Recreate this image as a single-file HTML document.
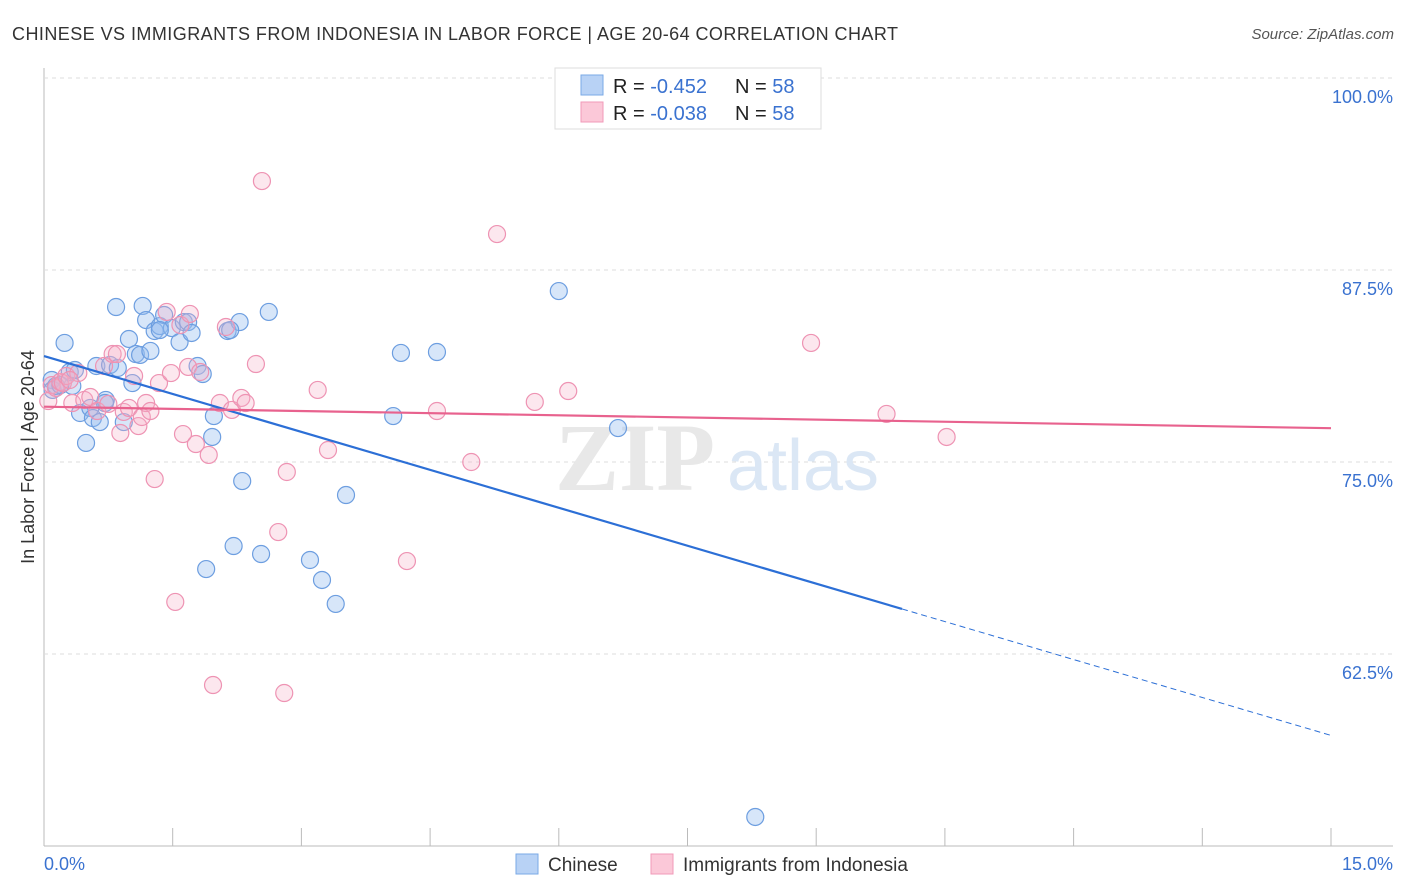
<!DOCTYPE html>
<html><head><meta charset="utf-8"><style>
body{margin:0;background:#fff;font-family:"Liberation Sans",sans-serif;}
svg{display:block}
</style></head><body>
<svg id="chart" width="1406" height="892">
<text x="12" y="40" font-size="18" fill="#333" textLength="886" lengthAdjust="spacing">CHINESE VS IMMIGRANTS FROM INDONESIA IN LABOR FORCE | AGE 20-64 CORRELATION CHART</text>
<text x="1394" y="39" font-size="15" fill="#555" font-style="italic" text-anchor="end">Source: ZipAtlas.com</text>
<text transform="translate(34,457) rotate(-90)" font-size="18" fill="#333" text-anchor="middle">In Labor Force | Age 20-64</text>
<g id="grid"></g>
<g><text x="635" y="490" font-size="96" fill="#e8e8e8" text-anchor="middle" font-family="Liberation Serif,serif" font-weight="bold">ZIP</text><text x="803" y="490" font-size="72" fill="#dbe7f5" text-anchor="middle">atlas</text></g>
<g id="marks"></g>
<g>
<rect x="555" y="68" width="266" height="61" fill="#fff" stroke="#ddd"/>
<rect x="581" y="75" width="22" height="20" fill="#b8d2f5" stroke="#7aa9e6"/>
<rect x="581" y="102" width="22" height="20" fill="#fbc8d8" stroke="#f09ab8"/>
<text x="613" y="93" font-size="20" fill="#222">R = <tspan fill="#3a72d0">-0.452</tspan><tspan x="735">N = </tspan><tspan fill="#3a72d0">58</tspan></text>
<text x="613" y="120" font-size="20" fill="#222">R = <tspan fill="#3a72d0">-0.038</tspan><tspan x="735">N = </tspan><tspan fill="#3a72d0">58</tspan></text>
</g>
<g>
<rect x="516" y="854" width="22" height="20" fill="#b8d2f5" stroke="#7aa9e6"/>
<text x="548" y="871" font-size="19" fill="#333">Chinese</text>
<rect x="651" y="854" width="22" height="20" fill="#fbc8d8" stroke="#f09ab8"/>
<text x="683" y="871" font-size="19" fill="#333">Immigrants from Indonesia</text>
</g>
</svg>
<script>
const yTicks=[100,87.5,75,62.5];
const yTickLabels=["100.0%","87.5%","75.0%","62.5%"];
const xTickLabels=["0.0%","15.0%"];
const chineseX=[0.09,0.10,0.14,0.24,0.30,0.33,0.36,0.42,0.49,0.54,0.57,0.61,0.65,0.72,0.77,0.84,0.86,0.93,0.99,1.03,1.07,1.12,1.15,1.19,1.24,1.29,1.35,1.40,1.49,1.58,1.63,1.68,1.72,1.79,1.85,1.89,1.96,1.98,2.14,2.21,2.28,2.31,2.53,2.62,3.10,3.24,3.40,3.52,4.07,4.16,4.58,6.00,6.69,8.29,0.19,0.71,1.35,2.17];
const chineseY=[80.34,79.69,79.95,82.75,80.86,79.95,80.99,78.19,76.24,78.52,77.86,81.25,77.60,79.04,81.32,85.09,81.12,77.60,83.01,80.14,82.03,81.97,85.16,84.24,82.23,83.53,83.85,84.57,83.72,82.81,84.11,84.11,83.40,81.25,80.73,68.03,76.63,77.99,83.53,69.53,84.11,73.76,69.01,84.77,68.62,67.32,65.76,72.85,77.99,82.10,82.16,86.13,77.21,51.89,80.01,78.84,83.59,83.59];
const indoX=[0.05,0.09,0.14,0.19,0.22,0.26,0.33,0.40,0.47,0.54,0.62,0.70,0.75,0.80,0.85,0.89,0.93,0.99,1.05,1.10,1.14,1.19,1.24,1.29,1.34,1.43,1.48,1.53,1.59,1.62,1.68,1.70,1.77,1.82,1.92,1.97,2.05,2.12,2.19,2.30,2.35,2.47,2.54,2.73,2.80,2.83,3.19,3.31,4.23,4.58,4.98,5.28,5.72,6.11,8.94,9.82,10.52,0.30];
const indoY=[78.97,80.01,79.82,80.21,80.14,80.60,78.84,80.79,79.04,79.23,78.32,81.25,78.78,82.03,82.03,76.89,78.26,78.52,80.60,77.34,77.93,78.84,78.32,73.89,80.14,84.77,80.79,65.89,83.92,76.82,81.19,84.64,76.17,80.86,75.46,60.48,78.84,83.79,78.39,79.17,78.84,81.38,93.29,70.44,59.96,74.35,79.69,75.78,68.55,78.32,75.00,89.84,78.91,79.62,82.75,78.13,76.63,80.34];
const chineseTrend=[81.9,57.2];
const chineseTrendSolidEnd=[10.0];
const indoTrend=[78.6,77.2];

const NS="http://www.w3.org/2000/svg";
const sx=v=>44+v/15*1287;
const sy=v=>78+(100-v)/12.5*192;
function el(tag,attrs,parent){const e=document.createElementNS(NS,tag);for(const k in attrs)e.setAttribute(k,attrs[k]);parent.appendChild(e);return e;}
const grid=document.getElementById('grid'),marks=document.getElementById('marks');
let a=el('line',{x1:44,y1:68,x2:44,y2:846,stroke:'#bbb'},grid);


a=el('line',{x1:44,y1:846,x2:1393,y2:846,stroke:'#bbb'},grid);


let g=el('line',{x1:44,y1:78,x2:1393,y2:78,stroke:'#ddd','stroke-dasharray':'4,4'},grid);


yTicks.forEach((t,i)=>{
  if(i>0){const l=el('line',{x1:44,y1:sy(t),x2:1393,y2:sy(t),stroke:'#ddd','stroke-dasharray':'4,4'},grid);
  
  }
  const tx=el('text',{x:1393,y:sy(t)+25,'font-size':18,fill:'#3a72d0','text-anchor':'end'},grid);
  tx.textContent=yTickLabels[i];
  
  
});
for(let i=0;i<=10;i++){const x=sx(i*1.5);
  const l=el('line',{x1:x,y1:828,x2:x,y2:846,stroke:'#bbb'},grid);
  
  }
[[0,'start',44],[15,'end',1393]].forEach((d,i)=>{
  const tx=el('text',{x:d[2],y:870,'font-size':18,fill:'#3a72d0','text-anchor':d[1]},grid);
  tx.textContent=xTickLabels[i];
  
  });
chineseX.forEach((x,i)=>{const c=el('circle',{cx:sx(x),cy:sy(chineseY[i]),r:8.5,fill:'rgba(150,188,240,0.38)',stroke:'#6d9ee0','stroke-width':1.2},marks);
  
  });
indoX.forEach((x,i)=>{const c=el('circle',{cx:sx(x),cy:sy(indoY[i]),r:8.5,fill:'rgba(246,175,198,0.3)',stroke:'#ee93b3','stroke-width':1.2},marks);
  
  });
const bAt=x=>chineseTrend[0]+(chineseTrend[1]-chineseTrend[0])*x/15;
let t=el('line',{x1:sx(0),y1:sy(bAt(0)),x2:sx(chineseTrendSolidEnd[0]),y2:sy(bAt(chineseTrendSolidEnd[0])),stroke:'#2c6fd6','stroke-width':2.2},marks);


t=el('line',{x1:sx(chineseTrendSolidEnd[0]),y1:sy(bAt(chineseTrendSolidEnd[0])),x2:sx(15),y2:sy(bAt(15)),stroke:'#2c6fd6','stroke-width':1,'stroke-dasharray':'6,4'},marks);


t=el('line',{x1:sx(0),y1:sy(indoTrend[0]),x2:sx(15),y2:sy(indoTrend[1]),stroke:'#e8628e','stroke-width':2.2},marks);


</script>
</body></html>
